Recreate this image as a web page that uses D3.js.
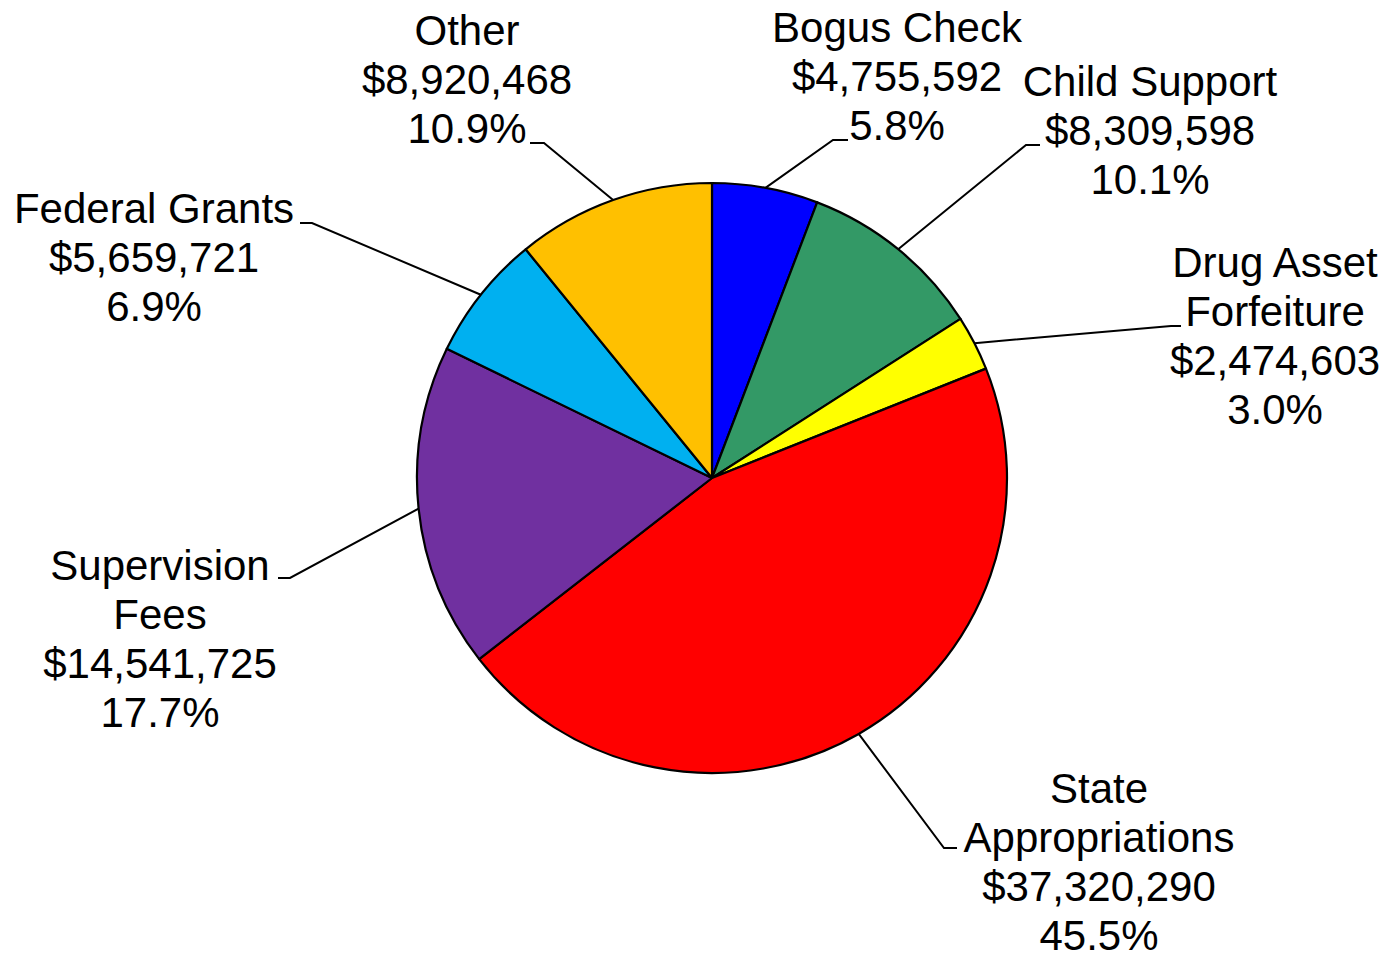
<!DOCTYPE html>
<html>
<head>
<meta charset="utf-8">
<script src="https://cdn.jsdelivr.net/npm/d3@7"></script>
<style>
  html, body { margin: 0; padding: 0; background: #fff; }
  svg { display: block; }
  text { font-family: "Liberation Sans", Arial, sans-serif; font-size: 42px; fill: #000; }
</style>
</head>
<body>
<svg width="1388" height="953"></svg>
<script>
// data, clockwise from 12 o'clock
var categories = ["Bogus Check", "Child Support", "Drug Asset Forfeiture", "State Appropriations",
                  "Supervision Fees", "Federal Grants", "Other"];
var amounts = [4755592, 8309598, 2474603, 37320290, 14541725, 5659721, 8920468];
var labelNames = [["Bogus Check"], ["Child Support"], ["Drug Asset", "Forfeiture"], ["State", "Appropriations"],
                  ["Supervision", "Fees"], ["Federal Grants"], ["Other"]];
var colors = ["#0000FF", "#339966", "#FFFF00", "#FF0000", "#7030A0", "#00B0F0", "#FFC000"];

// label layout: text centre x, first baseline y, elbow of leader line [x0, x1, y]
var labelLayout = [
    { x: 897,  y: 42,  elbow: [848, 833, 140] },
    { x: 1150, y: 96,  elbow: [1040, 1026, 145] },
    { x: 1275, y: 277, elbow: [1181, 1171, 326] },
    { x: 1099, y: 803, elbow: [957, 944, 848] },
    { x: 160,  y: 580, elbow: [278, 290, 578] },
    { x: 154,  y: 223, elbow: [300, 312, 223] },
    { x: 467,  y: 45,  elbow: [530, 544, 143] }
];
var lineStep = 49;

var cx = 712, cy = 478, radius = 295;

var svg = d3.select("svg");
var total = d3.sum(amounts);
var money = d3.format("$,");
var pct = d3.format(".1%");

var data = categories.map(function(c, i){
    return { name: c, value: amounts[i], idx: i };
});

var pie = d3.pie()
    .sort(null)
    .value(function(d){ return d.value; });

var arc = d3.arc()
    .innerRadius(0)
    .outerRadius(radius);

var edgeArc = d3.arc()
    .innerRadius(radius)
    .outerRadius(radius);

var arcs = pie(data);

var g = svg.append("g")
    .attr("transform", "translate(" + cx + "," + cy + ")");

g.selectAll("path.slice")
    .data(arcs)
    .enter()
    .append("path")
      .attr("class", "slice")
      .attr("d", arc)
      .attr("fill", function(d){ return colors[d.data.idx]; })
      .attr("stroke", "#000")
      .attr("stroke-width", 2.2)
      .attr("stroke-linejoin", "round");

// leader lines
svg.selectAll("polyline.leader")
    .data(arcs)
    .enter()
    .append("polyline")
      .attr("class", "leader")
      .attr("fill", "none")
      .attr("stroke", "#000")
      .attr("stroke-width", 2)
      .attr("points", function(d){
          var p = edgeArc.centroid(d);
          var e = labelLayout[d.data.idx].elbow;
          return [[e[0], e[2]], [e[1], e[2]], [p[0] + cx, p[1] + cy]].map(function(q){ return q.join(","); }).join(" ");
      });

// labels
var labels = svg.selectAll("text.label")
    .data(arcs)
    .enter()
    .append("text")
      .attr("class", "label")
      .attr("text-anchor", "middle");

labels.each(function(d){
    var lay = labelLayout[d.data.idx];
    var lines = labelNames[d.data.idx].concat([money(d.data.value), pct(d.data.value / total)]);
    var t = d3.select(this);
    lines.forEach(function(s, k){
        t.append("tspan")
            .attr("x", lay.x)
            .attr("y", lay.y + k * lineStep)
            .text(s);
    });
});
</script>
</body>
</html>
